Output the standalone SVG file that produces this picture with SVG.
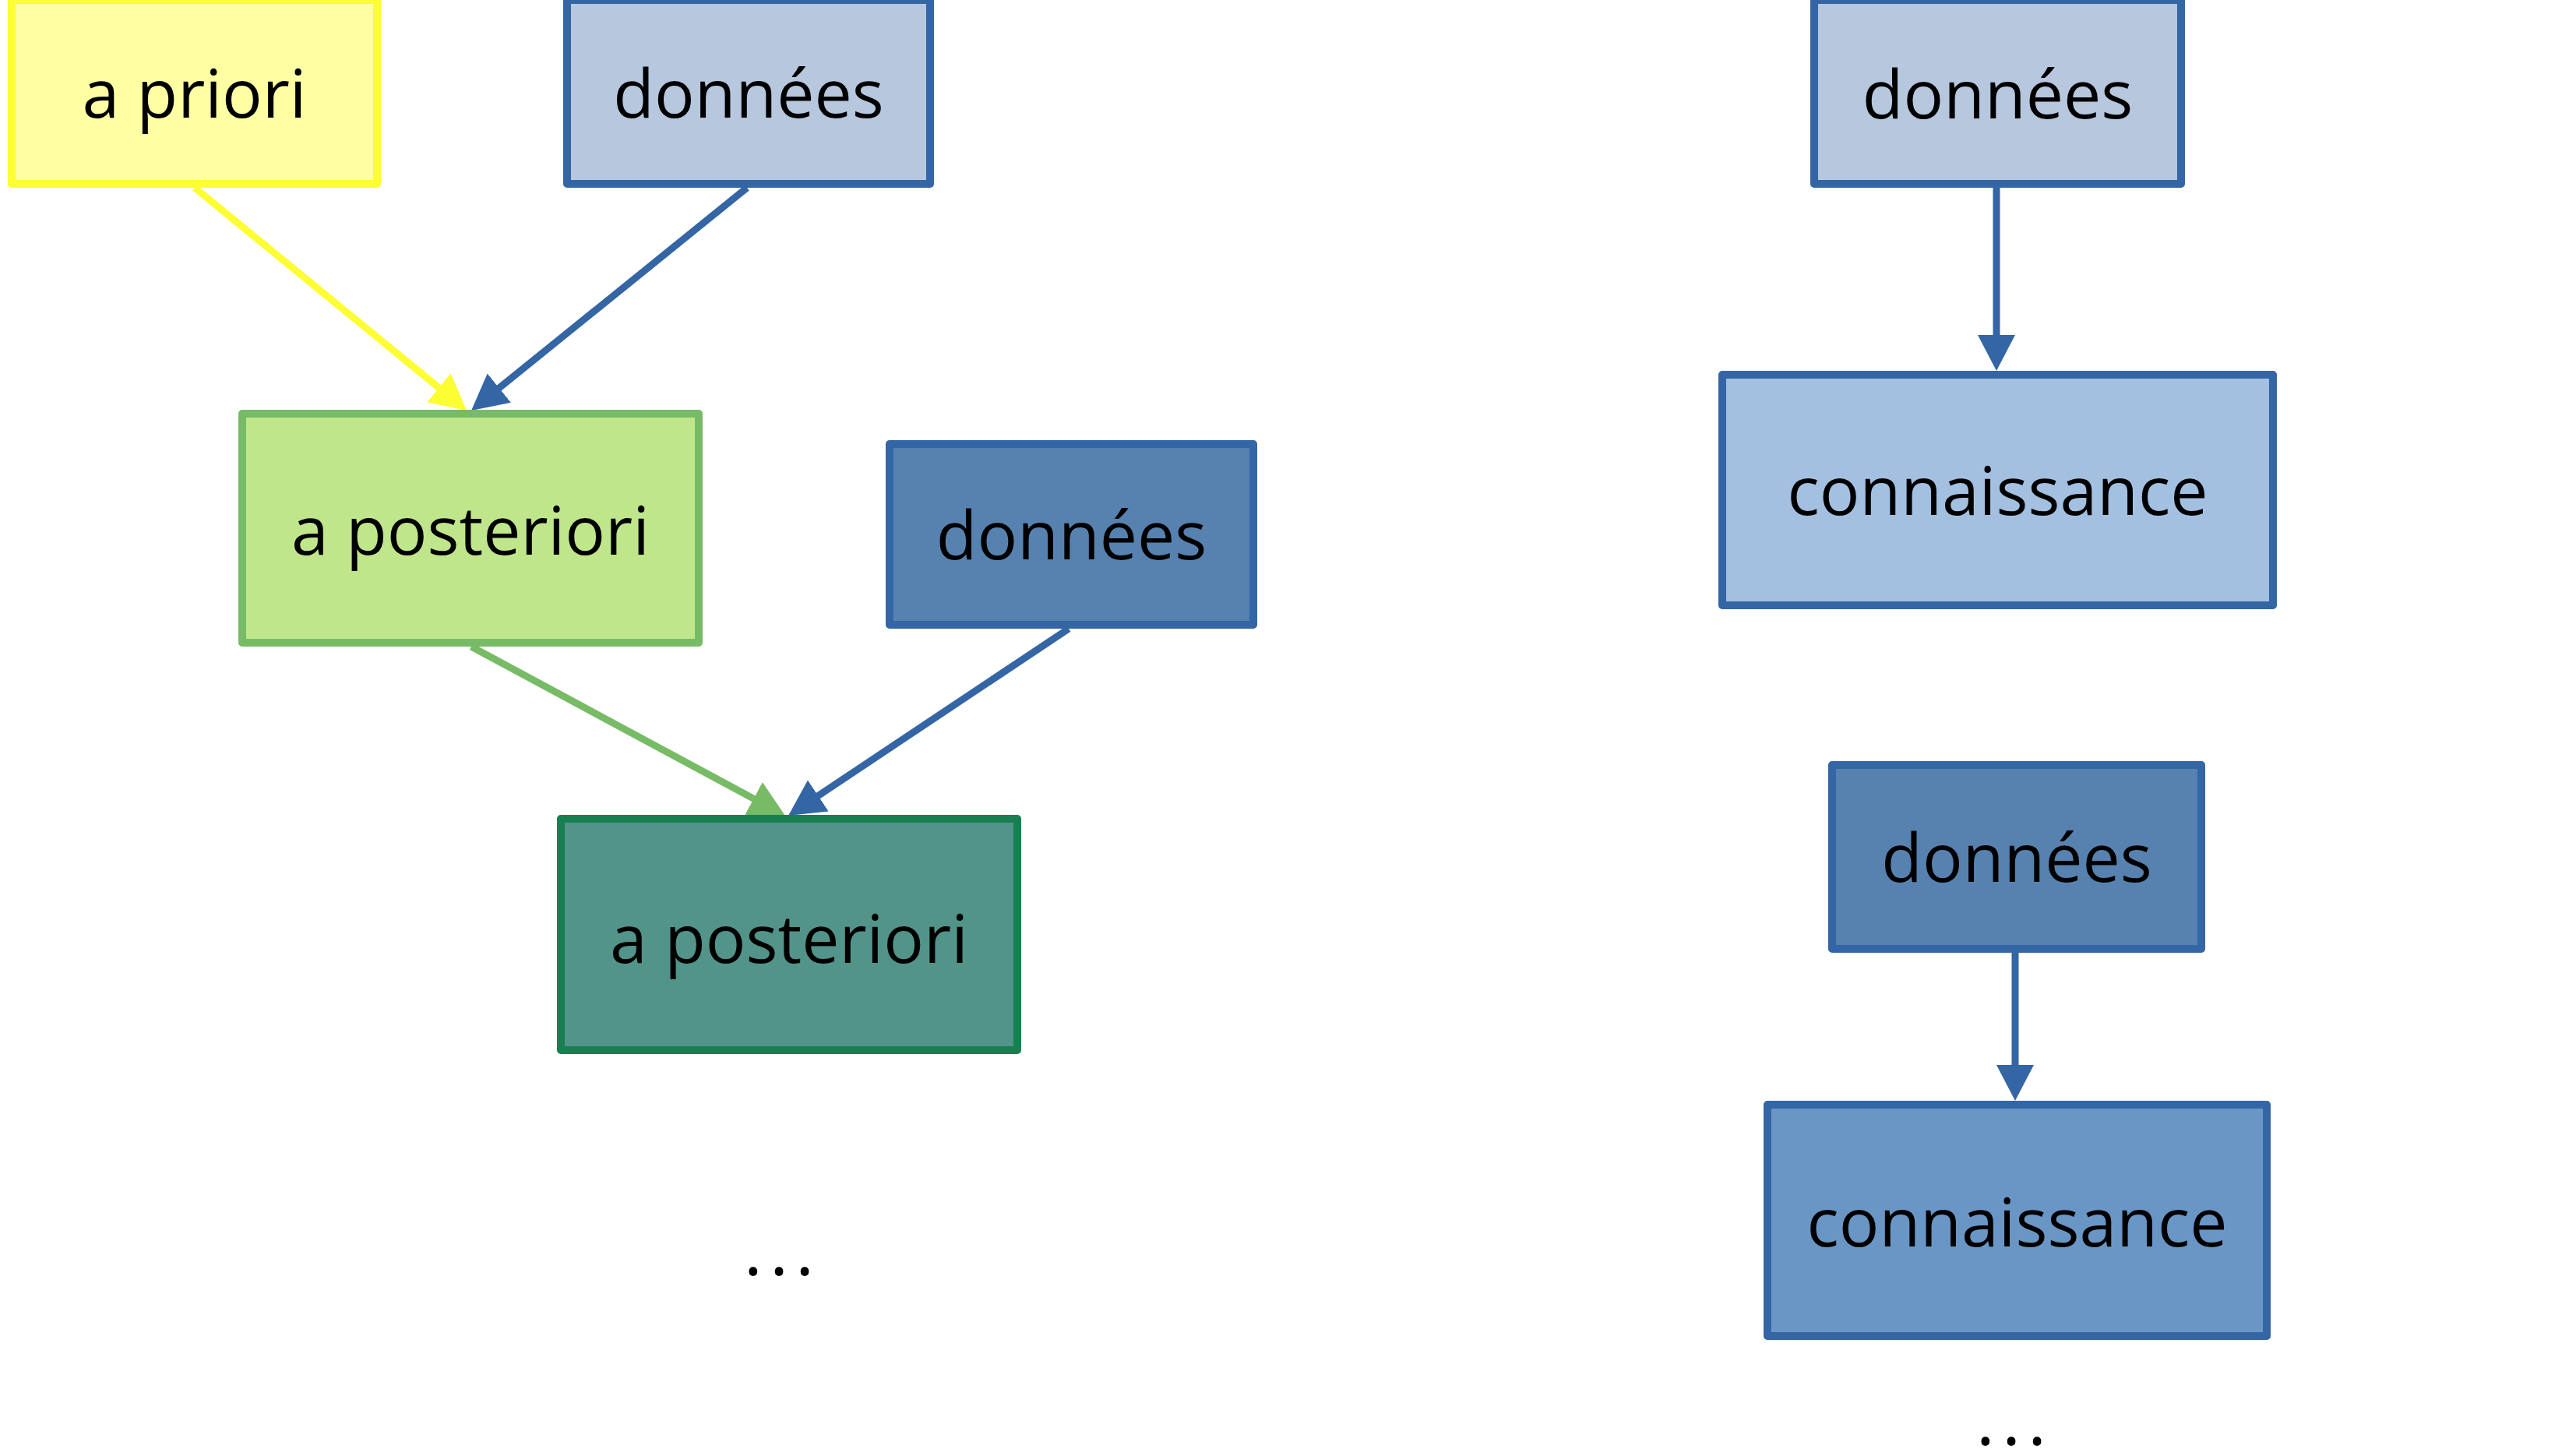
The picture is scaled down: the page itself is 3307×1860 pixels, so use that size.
<svg xmlns="http://www.w3.org/2000/svg" width="3307" height="1860" viewBox="0 0 3307 1860">
<style>
.box{stroke-width:10;stroke-linejoin:round}
.lbl{font-family:"Open Sans","Noto Sans","Liberation Sans",sans-serif;font-size:86px;fill:#000;text-anchor:middle}
.dots{font-family:"Open Sans","Noto Sans","Liberation Sans",sans-serif;font-size:92px;fill:#000;text-anchor:middle;letter-spacing:9px}
.c{fill:none;stroke-width:9}
</style>
<defs>
<marker id="ay" markerUnits="userSpaceOnUse" markerWidth="46" markerHeight="48" viewBox="0 0 46 48" refX="4" refY="24" orient="auto"><path d="M0,0 L46,24 L0,48 Z" fill="#FDFD33"/></marker>
<marker id="ab" markerUnits="userSpaceOnUse" markerWidth="46" markerHeight="48" viewBox="0 0 46 48" refX="4" refY="24" orient="auto"><path d="M0,0 L46,24 L0,48 Z" fill="#3465A4"/></marker>
<marker id="ag" markerUnits="userSpaceOnUse" markerWidth="46" markerHeight="48" viewBox="0 0 46 48" refX="4" refY="24" orient="auto"><path d="M0,0 L46,24 L0,48 Z" fill="#77BB66"/></marker>
</defs>
<rect width="3307" height="1860" fill="#fff"/>
<g id="connectors">
<line class="c" x1="250" y1="241" x2="566.5" y2="500.3" stroke="#FDFD33" marker-end="url(#ay)"/>
<line class="c" x1="959" y1="241" x2="637.7" y2="500.6" stroke="#3465A4" marker-end="url(#ab)"/>
<line class="c" x1="605" y1="830" x2="971" y2="1027.1" stroke="#77BB66" marker-end="url(#ag)"/>
<line class="c" x1="1372" y1="807" x2="1047" y2="1023.7" stroke="#3465A4" marker-end="url(#ab)"/>
<line class="c" x1="2563" y1="241" x2="2563" y2="434" stroke="#3465A4" marker-end="url(#ab)"/>
<line class="c" x1="2587" y1="1222" x2="2587" y2="1371" stroke="#3465A4" marker-end="url(#ab)"/>
</g>
<g id="apriori"><rect class="box" x="15" y="0" width="469" height="236" fill="#FEFEA3" stroke="#FDFD33"/><text class="lbl" x="249.5" y="151">a priori</text></g>
<g id="donnees1"><rect class="box" x="728" y="0" width="466" height="236" fill="#B6C7DE" stroke="#3465A4"/><text class="lbl" x="961" y="151">données</text></g>
<g id="aposteriori1"><rect class="box" x="311" y="531" width="586" height="294" fill="#C0E68C" stroke="#77BB66"/><text class="lbl" x="604" y="712">a posteriori</text></g>
<g id="donnees2"><rect class="box" x="1142" y="570" width="467" height="232" fill="#5782B0" stroke="#3465A4"/><text class="lbl" x="1375.5" y="718">données</text></g>
<g id="aposteriori2"><rect class="box" x="720" y="1051" width="586" height="297" fill="#529489" stroke="#188050"/><text class="lbl" x="1013" y="1236">a posteriori</text></g>
<g id="dots1"><text class="dots" x="1004.5" y="1637">...</text></g>
<g id="donnees3"><rect class="box" x="2329" y="0" width="471" height="236" fill="#B6C7DE" stroke="#3465A4"/><text class="lbl" x="2564.5" y="152">données</text></g>
<g id="connaissance1"><rect class="box" x="2211" y="481" width="707" height="296" fill="#A3C0E0" stroke="#3465A4"/><text class="lbl" x="2564.5" y="661">connaissance</text></g>
<g id="donnees4"><rect class="box" x="2352" y="982" width="474" height="236" fill="#5782B0" stroke="#3465A4"/><text class="lbl" x="2589" y="1132">données</text></g>
<g id="connaissance2"><rect class="box" x="2269" y="1418" width="641" height="297" fill="#6A96C6" stroke="#3465A4"/><text class="lbl" x="2589.5" y="1600">connaissance</text></g>
<g id="dots2"><text class="dots" x="2586.5" y="1855">...</text></g>
</svg>
